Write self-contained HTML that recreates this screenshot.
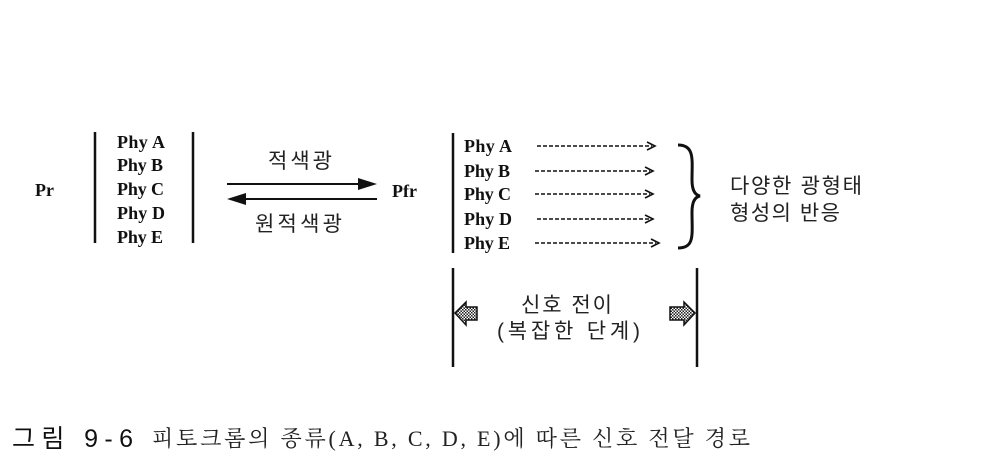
<!DOCTYPE html>
<html><head><meta charset="utf-8"><style>
body{margin:0;background:#fff;}
svg{display:block}
.p{font-family:"Liberation Serif",serif;font-weight:bold;font-size:18px;fill:#111}
.k{font-family:"Liberation Sans","Noto Sans CJK KR",sans-serif;font-size:21px;fill:#222}
</style></head><body>
<svg width="993" height="468" viewBox="0 0 993 468">
<defs>
<pattern id="ck" width="3" height="3" patternUnits="userSpaceOnUse"><rect width="3" height="3" fill="#fff"/><rect width="1.5" height="1.5" fill="#222"/><rect x="1.5" y="1.5" width="1.5" height="1.5" fill="#222"/></pattern>
</defs>
<g stroke="#111" stroke-width="2.5">
<line x1="95" y1="132" x2="95" y2="243"/>
<line x1="193" y1="132" x2="193" y2="243"/>
<line x1="453" y1="133" x2="453" y2="253"/>
<line x1="453" y1="268" x2="453" y2="367"/>
<line x1="697" y1="268" x2="697" y2="367"/>
</g>
<text class="p" x="35" y="196">Pr</text>
<g class="p">
<text x="117" y="148" textLength="48">Phy A</text><text x="117" y="171" textLength="46">Phy B</text><text x="117" y="195" textLength="47">Phy C</text><text x="117" y="219" textLength="48">Phy D</text><text x="117" y="243" textLength="46">Phy E</text>
</g>
<line x1="227" y1="184" x2="362" y2="184" stroke="#111" stroke-width="2"/>
<polygon points="358,178 377,184 358,190" fill="#111"/>
<line x1="242" y1="199" x2="377" y2="199" stroke="#111" stroke-width="2"/>
<polygon points="246,193 227,199 246,205" fill="#111"/>
<text class="k" x="268" y="168" textLength="64">적색광</text>
<text class="k" x="255" y="231" textLength="87">원적색광</text>
<text class="p" x="392" y="197">Pfr</text>
<g class="p">
<text x="464" y="152" textLength="48">Phy A</text><text x="464" y="177" textLength="46">Phy B</text><text x="464" y="200" textLength="47">Phy C</text><text x="464" y="225" textLength="48">Phy D</text><text x="464" y="249" textLength="46">Phy E</text>
</g>
<g stroke="#111" stroke-width="1.6" fill="none">
<line x1="537" y1="146" x2="652" y2="146" stroke-dasharray="4,2"/><polyline points="647,142 655,146 647,150"/>
<line x1="535" y1="171" x2="650" y2="171" stroke-dasharray="4,2"/><polyline points="645,167 653,171 645,175"/>
<line x1="535" y1="194" x2="650" y2="194" stroke-dasharray="4,2"/><polyline points="645,190 653,194 645,198"/>
<line x1="537" y1="219" x2="650" y2="219" stroke-dasharray="4,2"/><polyline points="645,215 653,219 645,223"/>
<line x1="535" y1="243" x2="656" y2="243" stroke-dasharray="4,2"/><polyline points="651,239 659,243 651,247"/>
</g>
<path d="M678,145 C695,145 692,160 692,180 C692,190 695,195 700,196 C695,197 692,202 692,212 C692,235 695,248 678,248" stroke="#111" stroke-width="3" fill="none"/>
<text class="k" x="730" y="193" textLength="132">다양한 광형태</text>
<text class="k" x="730" y="220" textLength="110">형성의 반응</text>
<polygon points="455,313 466,302 466,307 477,307 477,320 466,320 466,325" fill="url(#ck)" stroke="#111" stroke-width="1.5"/>
<polygon points="695,313 684,302 684,307 670,307 670,320 684,320 684,325" fill="url(#ck)" stroke="#111" stroke-width="1.5"/>
<text class="k" x="521" y="312" textLength="91">신호 전이</text>
<text class="k" x="497" y="338" textLength="143">(복잡한 단계)</text>
<text x="12" y="447" textLength="121" style="font-family:'Liberation Sans','Noto Sans CJK KR',sans-serif;font-size:25px;fill:#111">그림 9-6</text>
<text x="152" y="446" textLength="598" style="font-family:'Liberation Serif','Noto Serif CJK SC',serif;font-size:22px;fill:#222">피토크롬의 종류(A, B, C, D, E)에 따른 신호 전달 경로</text>
</svg>
</body></html>
